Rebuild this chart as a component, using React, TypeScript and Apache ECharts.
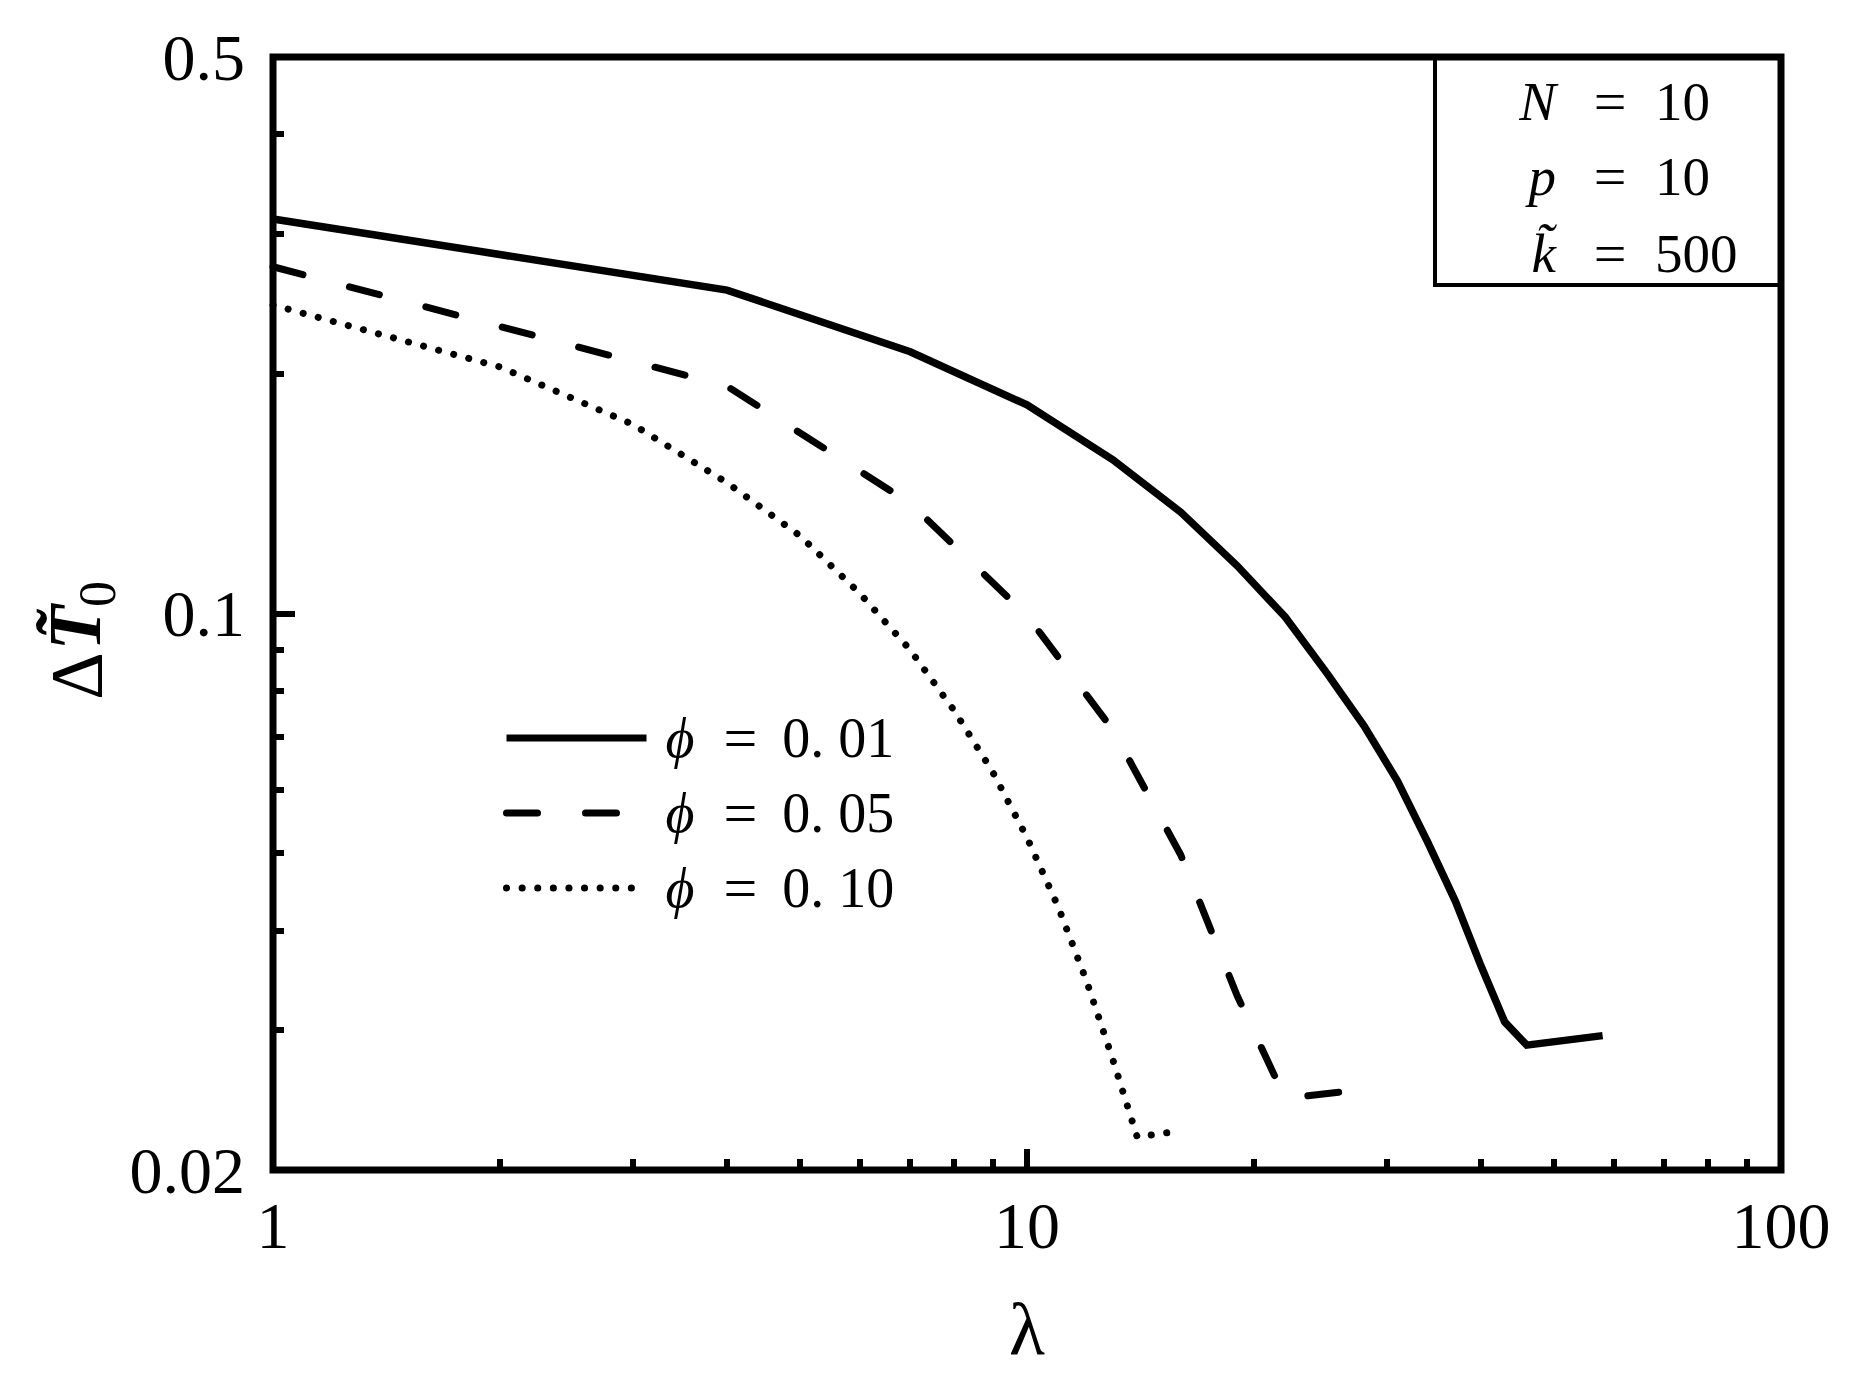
import React, { useEffect, useRef } from "react";
import * as echarts from "echarts";

// ---- data ----
const lambdaSolid = [1, 4, 7, 10, 13, 16, 19, 22, 25, 28, 31, 34, 37, 40, 43, 46, 58];
const valuesSolid = [0.313, 0.2548, 0.2132, 0.1828, 0.156, 0.134, 0.1148, 0.099, 0.0841, 0.0722, 0.0616, 0.0516, 0.0435, 0.0361, 0.0307, 0.0287, 0.0295];

const lambdaDashed = [1, 4, 7, 10, 13, 16, 19, 22, 26.5];
const valuesDashed = [0.2726, 0.193, 0.1375, 0.0994, 0.0714, 0.0497, 0.0331, 0.0246, 0.0251];

const lambdaDotted = [1, 2, 3, 4, 5, 6, 7, 8, 9, 10, 11, 12, 13, 14, 16];
const valuesDotted = [0.244, 0.204, 0.1728, 0.146, 0.1252, 0.106, 0.09, 0.0756, 0.0633, 0.0523, 0.0428, 0.0345, 0.0275, 0.022, 0.0224];

const seriesNames = ["ϕ = 0. 01", "ϕ = 0. 05", "ϕ = 0. 10"];

const xLabelValues = [1, 10, 100];
const xMajorTicks = [10];
const xMinorTicks = [2, 3, 4, 5, 6, 7, 8, 9, 20, 30, 40, 50, 60, 70, 80, 90];
const yLabelValues = [0.02, 0.1, 0.5];
const yMajorTicks = [0.1];
const yMinorTicks = [0.03, 0.04, 0.05, 0.06, 0.07, 0.08, 0.09, 0.2, 0.3, 0.4];

const paramNames = ["N", "p", "k\u0303"];
const paramValues = ["10", "10", "500"];

export default function App() {
  const ref = useRef<HTMLDivElement>(null);

  useEffect(() => {
    document.body.style.margin = "0";
    const chart = echarts.init(ref.current as HTMLDivElement, null, { renderer: "svg" });
    const font = "Liberation Serif";
    const pairs = (xs: number[], ys: number[]) => xs.map((x, i) => [x, ys[i]]);
    const fmt = (v: number) => String(Number(Number(v).toPrecision(3)));
    const tickStyle = { color: "#000", width: 6 };

    const gridL = 273, gridT = 57, gridW = 1508, gridH = 1113;

    const paramRowsY = [101, 176, 253];
    const paramGraphics: any[] = [];
    paramNames.forEach((n, i) => {
      paramGraphics.push({
        type: "text", x: 1556, y: paramRowsY[i], z: 100,
        style: { text: n, fontFamily: font, fontSize: 55, lineHeight: 40, fontStyle: "italic", fill: "#000", align: "right", verticalAlign: "middle" },
      });
      paramGraphics.push({
        type: "text", x: 1610, y: paramRowsY[i], z: 100,
        style: { text: "=", fontFamily: font, fontSize: 58, lineHeight: 40, fill: "#000", align: "center", verticalAlign: "middle" },
      });
      paramGraphics.push({
        type: "text", x: 1655, y: paramRowsY[i], z: 100,
        style: { text: paramValues[i], fontFamily: font, fontSize: 55, lineHeight: 40, fill: "#000", align: "left", verticalAlign: "middle" },
      });
    });

    const option: any = {
      animation: false,
      backgroundColor: "#ffffff",
      textStyle: { fontFamily: font, color: "#000" },
      grid: {
        left: gridL, top: gridT, width: gridW, height: gridH,
        show: true, borderColor: "#000", borderWidth: 7, backgroundColor: "transparent",
      },
      xAxis: [
        {
          type: "log", logBase: 10, min: 1, max: 100, position: "bottom",
          axisLine: { show: false, onZero: false },
          axisTick: { show: true, inside: true, length: 21, customValues: xMajorTicks, lineStyle: tickStyle },
          axisLabel: { show: true, customValues: xLabelValues, formatter: fmt, fontSize: 66, fontFamily: font, color: "#000", margin: 22 },
          splitLine: { show: false },
          minorTick: { show: false },
          name: "λ", nameLocation: "middle", nameGap: 122,
          nameTextStyle: { fontSize: 74, fontFamily: font, color: "#000" },
        },
        {
          type: "log", logBase: 10, min: 1, max: 100, position: "bottom",
          axisLine: { show: false, onZero: false },
          axisTick: { show: true, inside: true, length: 11, customValues: xMinorTicks, lineStyle: tickStyle },
          axisLabel: { show: false },
          splitLine: { show: false },
        },
      ],
      yAxis: [
        {
          type: "log", logBase: 10, min: 0.02, max: 0.5, position: "left",
          axisLine: { show: false, onZero: false },
          axisTick: { show: true, inside: true, length: 22, customValues: yMajorTicks, lineStyle: tickStyle },
          axisLabel: { show: true, customValues: yLabelValues, formatter: fmt, fontSize: 66, fontFamily: font, color: "#000", margin: 28 },
          splitLine: { show: false },
          minorTick: { show: false },
        },
        {
          type: "log", logBase: 10, min: 0.02, max: 0.5, position: "left",
          axisLine: { show: false, onZero: false },
          axisTick: { show: true, inside: true, length: 11, customValues: yMinorTicks, lineStyle: tickStyle },
          axisLabel: { show: false },
          splitLine: { show: false },
        },
      ],
      legend: {
        orient: "vertical",
        left: 503, top: 708, padding: 0,
        itemWidth: 140, itemHeight: 14, itemGap: 15,
        data: seriesNames,
        lineStyle: { width: 7 },
        itemStyle: { opacity: 0 },
        formatter: (name: string) => {
          const parts = name.split(" = ");
          return "{i|" + parts[0] + "}{e| = }{r|" + parts[1] + "}";
        },
        textStyle: {
          fontFamily: font, fontSize: 56, color: "#000", lineHeight: 58,
          rich: {
            i: { fontFamily: font, fontSize: 56, fontStyle: "italic", color: "#000", lineHeight: 58, padding: [0, 0, 0, 14] },
            e: { fontFamily: font, fontSize: 60, color: "#000", lineHeight: 58, padding: [0, 10, 0, 14] },
            r: { fontFamily: font, fontSize: 56, color: "#000", lineHeight: 58 },
          },
        },
      },
      series: [
        {
          name: seriesNames[0], type: "line", data: pairs(lambdaSolid, valuesSolid),
          showSymbol: false, symbol: "none", color: "#000",
          lineStyle: { color: "#000", width: 7.5, type: "solid", join: "miter" },
        },
        {
          name: seriesNames[1], type: "line", data: pairs(lambdaDashed, valuesDashed),
          showSymbol: false, symbol: "none", color: "#000",
          lineStyle: { color: "#000", width: 7, type: [31, 48], cap: "round" },
        },
        {
          name: seriesNames[2], type: "line", data: pairs(lambdaDotted, valuesDotted),
          showSymbol: false, symbol: "none", color: "#000",
          lineStyle: { color: "#000", width: 7, type: [0.1, 15.5], cap: "round" },
        },
      ],
      graphic: [
        // y-axis title  ΔT̃0 (rotated)
        { type: "text", x: 77, y: 676, rotation: Math.PI / 2, z: 100,
          style: { text: "Δ", fontFamily: font, fontSize: 74, lineHeight: 56, fill: "#000", align: "center", verticalAlign: "middle" } },
        { type: "text", x: 75, y: 628, rotation: Math.PI / 2, z: 100,
          style: { text: "T\u0303", fontFamily: font, fontSize: 74, lineHeight: 56, fontStyle: "italic", fontWeight: "bold", fill: "#000", align: "center", verticalAlign: "middle" } },
        { type: "text", x: 97, y: 594, rotation: Math.PI / 2, z: 100,
          style: { text: "0", fontFamily: font, fontSize: 52, lineHeight: 34, fill: "#000", align: "center", verticalAlign: "middle" } },
        // parameter box
        { type: "polyline", z: 100,
          shape: { points: [[1435, 57], [1435, 285], [1781, 285]] },
          style: { stroke: "#000", lineWidth: 4, fill: null } },
        ...paramGraphics,
      ],
    };

    chart.setOption(option);
    return () => chart.dispose();
  }, []);

  return <div ref={ref} style={{ width: 1855, height: 1384 }} />;
}
